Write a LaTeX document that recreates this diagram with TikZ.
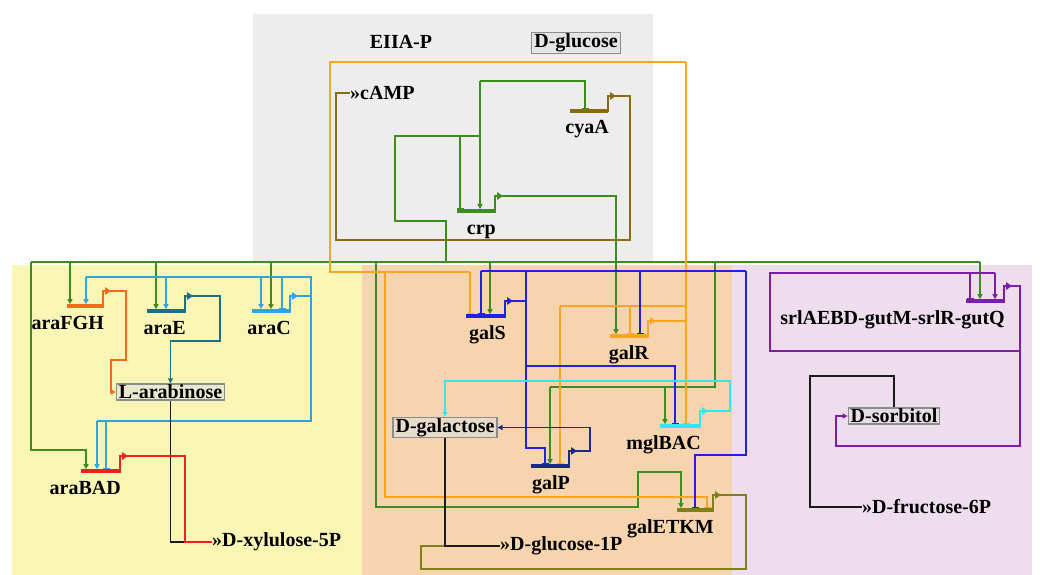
\documentclass[tikz,border=0pt]{standalone}
\usepackage{fontspec}
\setmainfont{Liberation Serif}
\usetikzlibrary{arrows.meta}
\definecolor{cG}{HTML}{3C8C1E}
\definecolor{cBr}{HTML}{8A6A14}
\definecolor{cO}{HTML}{F5A623}
\definecolor{cAF}{HTML}{F26B1D}
\definecolor{cT}{HTML}{1E6E80}
\definecolor{cAC}{HTML}{2BA5E8}
\definecolor{cR}{HTML}{EE2020}
\definecolor{cB}{HTML}{2020E6}
\definecolor{cN}{HTML}{1B2A8A}
\definecolor{cC}{HTML}{30E8F0}
\definecolor{cOl}{HTML}{7F7F1E}
\definecolor{cP}{HTML}{7C1FA6}
\definecolor{cK}{HTML}{1A1A1A}
\definecolor{bgGray}{HTML}{EDEDED}
\definecolor{bgY}{HTML}{F9F5B5}
\definecolor{bgO}{HTML}{F6D5AE}
\definecolor{bgL}{HTML}{EDDDED}
\pgfdeclarelayer{bg}
\pgfdeclarelayer{wires}
\pgfsetlayers{bg,wires,main}
% gene: name, left x, right x, bar y, colour, label
\newcommand{\gene}[6]{%
  \draw[#5, line width=3.2pt] ({#2},{#4}) -- ({#3},{#4});
  \draw[#5, line width=2.2pt, -{Triangle[length=6pt,width=7.5pt]}] ({#3},{#4+1.5}) -- ({#3},{#4-15}) -- ({#3+8},{#4-15});
  \coordinate (#1p) at ({#3+7},{#4-15});
  \coordinate (#1b) at ({#3},{#4-1.8});
  \node[anchor=base east] (#1) at ({#3+1},{#4+23}) {#6};
}
\begin{document}
\begin{tikzpicture}[x=1pt,y=-1pt,
  every node/.style={inner sep=0pt, font=\fontsize{20}{24}\selectfont\bfseries},
  wire/.style={line width=1.3pt},
  act/.style={wire,-{Triangle[length=5pt,width=5pt]}},
  rep/.style={wire,-{Bar[width=7pt,line width=1.4pt]}},
  box/.style={draw=black!45, line width=1.2pt, fill=black!12, fill opacity=0.6, text opacity=1, inner xsep=2.5pt, inner ysep=1pt}]
\useasboundingbox (0,0) rectangle (1046,575);
\begin{pgfonlayer}{bg}
  \fill[white] (0,0) rectangle (1046,575);
  \fill[bgGray] (253,14) rectangle (653,262);
  \fill[bgY] (12,265) rectangle (362,575);
  \fill[bgO] (362,265) rectangle (732,575);
  \fill[bgL] (732,265) rectangle (1032,575);
\end{pgfonlayer}

% genes
\gene{crp}{457}{495}{211}{cG}{crp}
\gene{cyaA}{570}{608}{111}{cBr}{cyaA}
\gene{araFGH}{67}{103}{306}{cAF}{araFGH}
\gene{araE}{147}{185}{311}{cT}{araE}
\gene{araC}{252}{290}{311}{cAC}{araC}
\gene{araBAD}{81}{120}{471}{cR}{araBAD}
\gene{galS}{466}{505}{316}{cB}{galS}
\gene{galR}{610}{648}{336}{cO}{galR}
\gene{galP}{531}{569}{466}{cN}{galP}
\gene{mglBAC}{660}{700}{426}{cC}{mglBAC}
\gene{galETKM}{677}{713}{510}{cOl}{galETKM}
\gene{srl}{966}{1004}{301}{cP}{srlAEBD-gutM-srlR-gutQ}

% metabolites and labels
\node (eiia) at (401,42) {EIIA-P};
\node[box] (dglc) at (576,43) {D-glucose};
\node[anchor=west] (camp) at (350,93) {»cAMP};
\node[box] (larab) at (170.5,392) {L-arabinose};
\node[box] (dgal) at (445,427.5) {D-galactose};
\node[box] (dsorb) at (894,416) {D-sorbitol};
\node[anchor=west] (xyl) at (212,542) {»D-xylulose-5P};
\node[anchor=west] (glc1p) at (500,546) {»D-glucose-1P};
\node[anchor=west] (fru) at (862,507) {»D-fructose-6P};

\begin{pgfonlayer}{wires}
% crp (green)
\draw[cG,wire] (31,262) -- (980,262);
\draw[cG,act] (crpp) -| (616,0 |- galRb);
\draw[cG,act] (31,262) -- (31,450) -| (86,0 |- araBADb);
\draw[cG,act] (70,262) -- (70,0 |- araFGHb);
\draw[cG,act] (156,262) -- (156,0 |- araEb);
\draw[cG,act] (271,262) -- (271,0 |- araCb);
\draw[cG,act] (376,262) -- (376,507) -- (638,507) -- (638,472) -| (681,0 |- galETKMb);
\draw[cG,wire] (446,262) -- (446,221) -- (395,221) -- (395,136) -- (480,136);
\draw[cG,rep] (460,136) -- (460,0 |- crpb);
\draw[cG,act] (480,81) -- (480,0 |- crpb);
\draw[cG,rep] (480,81) -| (585,0 |- cyaAb);
\draw[cG,act] (490,262) -- (490,0 |- galSb);
\draw[cG,wire] (715,262) -- (715,387) -- (550,387);
\draw[cG,act] (550,387) -- (550,0 |- galPb);
\draw[cG,act] (665,387) -- (665,0 |- mglBACb);
\draw[cG,act] (980,262) -- (980,0 |- srlb);
% galR (orange)
\draw[cO,wire] (galRp) -- (686,0 |- galRp);
\draw[cO,rep] (686,62) -- (686,0 |- mglBACb);
\draw[cO,wire] (686,62) -- (330,62) -- (330,272) -- (470,272);
\draw[cO,rep] (470,272) -- (470,0 |- galSb);
\draw[cO,rep] (385,272) -- (385,497) -| (707,0 |- galETKMb);
\draw[cO,wire] (686,306) -- (560,306);
\draw[cO,rep] (560,306) -- (560,0 |- galPb);
\draw[cO,rep] (630,306) -- (630,0 |- galRb);
% galS (blue)
\draw[cB,wire] (galSp) -- (526,0 |- galSp);
\draw[cB,wire] (481,271) -- (746,271);
\draw[cB,rep] (481,271) -- (481,0 |- galSb);
\draw[cB,rep] (526,271) -- (526,448) -| (545,0 |- galPb);
\draw[cB,rep] (640,271) -- (640,0 |- galRb);
\draw[cB,rep] (746,271) -- (746,455) -| (695,0 |- galETKMb);
\draw[cB,rep] (526,366) -| (675,0 |- mglBACb);
% galP (navy)
\draw[cN,act] (galPp) -- (590,0 |- galPp) -- (590,0 |- dgal.east) -- (dgal.east);
% mglBAC (cyan)
\draw[cC,act] (mglBACp) -- (730,0 |- mglBACp) -- (730,381) -| (dgal.north);
% galETKM (olive) and D-galactose
\draw[cOl,wire] (galETKMp) -- (746,0 |- galETKMp) -- (746,569) -- (421,569) -- (421,0 |- glc1p.west) -- (glc1p.west);
\draw[cK,wire] (dgal.south) |- (glc1p.west);
% cyaA (brown)
\draw[cBr,wire] (cyaAp) -- (630,0 |- cyaAp) -- (630,240) -- (336,240) |- (camp.west);
% araFGH, araE
\draw[cAF,act] (araFGHp) -- (126,0 |- araFGHp) -- (126,360) -- (111,360) |- (larab.west);
\draw[cT,act] (araEp) -- (220,0 |- araEp) -- (220,341) -| (larab.north);
% araC (light blue)
\draw[cAC,wire] (araCp) -- (311,0 |- araCp);
\draw[cAC,wire] (86,277) -- (311,277) -- (311,421) -- (97,421);
\draw[cAC,act] (86,277) -- (86,0 |- araFGHb);
\draw[cAC,act] (166,277) -- (166,0 |- araEb);
\draw[cAC,act] (261,277) -- (261,0 |- araCb);
\draw[cAC,rep] (282,277) -- (282,0 |- araCb);
\draw[cAC,act] (97,421) -- (97,0 |- araBADb);
\draw[cAC,rep] (106,421) -- (106,0 |- araBADb);
% araBAD and L-arabinose
\draw[cK,wire] (larab.south) |- (xyl.west);
\draw[cR,wire] (araBADp) -- (185,0 |- araBADp) |- (xyl.west);
% srl (purple)
\draw[cP,act] (srlp) -- (1020,0 |- srlp) -- (1020,446) -- (836,446) |- (dsorb.west);
\draw[cP,wire] (1020,351) -- (770,351) -- (770,273) -- (995,273);
\draw[cP,act] (995,273) -- (995,0 |- srlb);
\draw[cP,rep] (970,273) -- (970,0 |- srlb);
% D-sorbitol
\draw[cK,wire] (dsorb.north) |- (810,376) |- (fru.west);
\end{pgfonlayer}
\end{tikzpicture}
\end{document}
